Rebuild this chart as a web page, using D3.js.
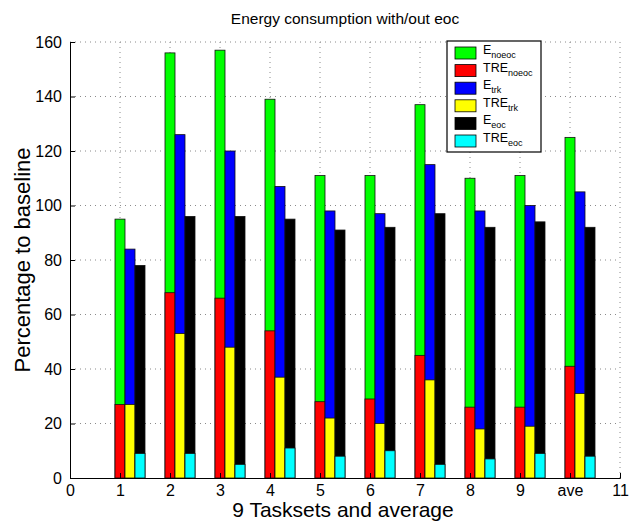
<!DOCTYPE html>
<html>
<head>
<meta charset="utf-8">
<script src="https://cdn.jsdelivr.net/npm/d3@7"></script>
<style>
  html, body { margin: 0; padding: 0; background: #fff; }
  svg { display: block; font-family: "Liberation Sans", Arial, sans-serif; }
</style>
</head>
<body>
<div id="chart"></div>
<script>
// --- Data ---
const categories = ['1', '2', '3', '4', '5', '6', '7', '8', '9', 'ave'];
const xTickLabels = ['0', '1', '2', '3', '4', '5', '6', '7', '8', '9', 'ave', '11'];
const yTicks = [0, 20, 40, 60, 80, 100, 120, 140, 160];

const eNoeoc = [95, 156, 157, 139, 111, 111, 137, 110, 111, 125];
const treNoeoc = [27, 68, 66, 54, 28, 29, 45, 26, 26, 41];
const eTrk = [84, 126, 120, 107, 98, 97, 115, 98, 100, 105];
const treTrk = [27, 53, 48, 37, 22, 20, 36, 18, 19, 31];
const eEoc = [78, 96, 96, 95, 91, 92, 97, 92, 94, 92];
const treEoc = [9, 9, 5, 11, 8, 10, 5, 7, 9, 8];

const series = [
  { name: 'E', sub: 'noeoc', values: eNoeoc, color: '#00ff00', offset: 0 },
  { name: 'TRE', sub: 'noeoc', values: treNoeoc, color: '#ff0000', offset: 0 },
  { name: 'E', sub: 'trk', values: eTrk, color: '#0000ff', offset: 0.2 },
  { name: 'TRE', sub: 'trk', values: treTrk, color: '#ffff00', offset: 0.2 },
  { name: 'E', sub: 'eoc', values: eEoc, color: '#000000', offset: 0.4 },
  { name: 'TRE', sub: 'eoc', values: treEoc, color: '#00ffff', offset: 0.4 }
];

const W = 630, H = 523;
const svg = d3.select('#chart').append('svg')
  .attr('width', W)
  .attr('height', H);

// --- Scales ---
const x = d3.scaleLinear().domain([0, 11]).range([70, 620]);
const y = d3.scaleLinear().domain([0, 160]).range([478, 42]);
const barW = 0.2;

// --- Gridlines ---
const grid = svg.append('g');
grid.selectAll('.hg')
  .data(yTicks.slice(1))
  .enter().append('line')
  .attr('x1', x(0)).attr('x2', x(11))
  .attr('y1', d => y(d)).attr('y2', d => y(d))
  .attr('stroke', '#8a8a8a')
  .attr('stroke-width', 1)
  .attr('stroke-dasharray', '1,4');
grid.selectAll('.vg')
  .data(d3.range(1, 12))
  .enter().append('line')
  .attr('x1', d => x(d)).attr('x2', d => x(d))
  .attr('y1', y(0)).attr('y2', y(160))
  .attr('stroke', '#8a8a8a')
  .attr('stroke-width', 1)
  .attr('stroke-dasharray', '1,4');

// --- Bars ---
series.forEach(s => {
  svg.append('g').selectAll('rect')
    .data(s.values)
    .enter().append('rect')
    .attr('x', (d, i) => x(i + 1 + s.offset - barW / 2))
    .attr('width', x(barW) - x(0))
    .attr('y', d => y(d))
    .attr('height', d => y(0) - y(d))
    .attr('fill', s.color)
    .attr('stroke', '#111')
    .attr('stroke-width', 0.8);
});

// --- Axes ---
const xAxis = svg.append('g')
  .attr('transform', `translate(0,${y(0)})`)
  .call(d3.axisBottom(x)
    .tickValues(d3.range(0, 12))
    .tickSize(-5)
    .tickPadding(7)
    .tickFormat((d, i) => xTickLabels[i]));

const yAxis = svg.append('g')
  .attr('transform', `translate(${x(0)},0)`)
  .call(d3.axisLeft(y)
    .tickValues(yTicks)
    .tickSize(-5)
    .tickPadding(8));

[xAxis, yAxis].forEach(ax => {
  ax.select('.domain').attr('stroke', '#000').attr('stroke-width', 1);
  ax.selectAll('line').attr('stroke', '#000');
  ax.selectAll('text').attr('fill', '#000')
    .style('font-size', '16px')
    .style('font-family', '"Liberation Sans", Arial, sans-serif');
});

// --- Titles ---
svg.append('text')
  .attr('x', 345).attr('y', 24)
  .attr('text-anchor', 'middle')
  .style('font-size', '15.5px')
  .text('Energy consumption with/out eoc');

svg.append('text')
  .attr('x', 343).attr('y', 517)
  .attr('text-anchor', 'middle')
  .style('font-size', '21px')
  .text('9 Tasksets and average');

svg.append('text')
  .attr('transform', `translate(30,${(y(0) + y(160)) / 2}) rotate(-90)`)
  .attr('text-anchor', 'middle')
  .style('font-size', '22px')
  .text('Percentage to baseline');

// --- Legend ---
const lg = svg.append('g').attr('transform', 'translate(447,41)');
lg.append('rect')
  .attr('width', 94).attr('height', 111)
  .attr('fill', '#fff')
  .attr('stroke', '#000')
  .attr('stroke-width', 1.2);

const item = lg.selectAll('.item')
  .data(series)
  .enter().append('g')
  .attr('transform', (d, i) => `translate(8,${6 + i * 17.6})`);

item.append('rect')
  .attr('width', 21).attr('height', 12)
  .attr('fill', d => d.color)
  .attr('stroke', '#000')
  .attr('stroke-width', 0.8);

const label = item.append('text')
  .attr('x', 28).attr('y', 7)
  .style('font-size', '12.5px');
label.append('tspan').text(d => d.name);
label.append('tspan')
  .attr('dy', 4)
  .style('font-size', '9px')
  .text(d => d.sub);
</script>
</body>
</html>
